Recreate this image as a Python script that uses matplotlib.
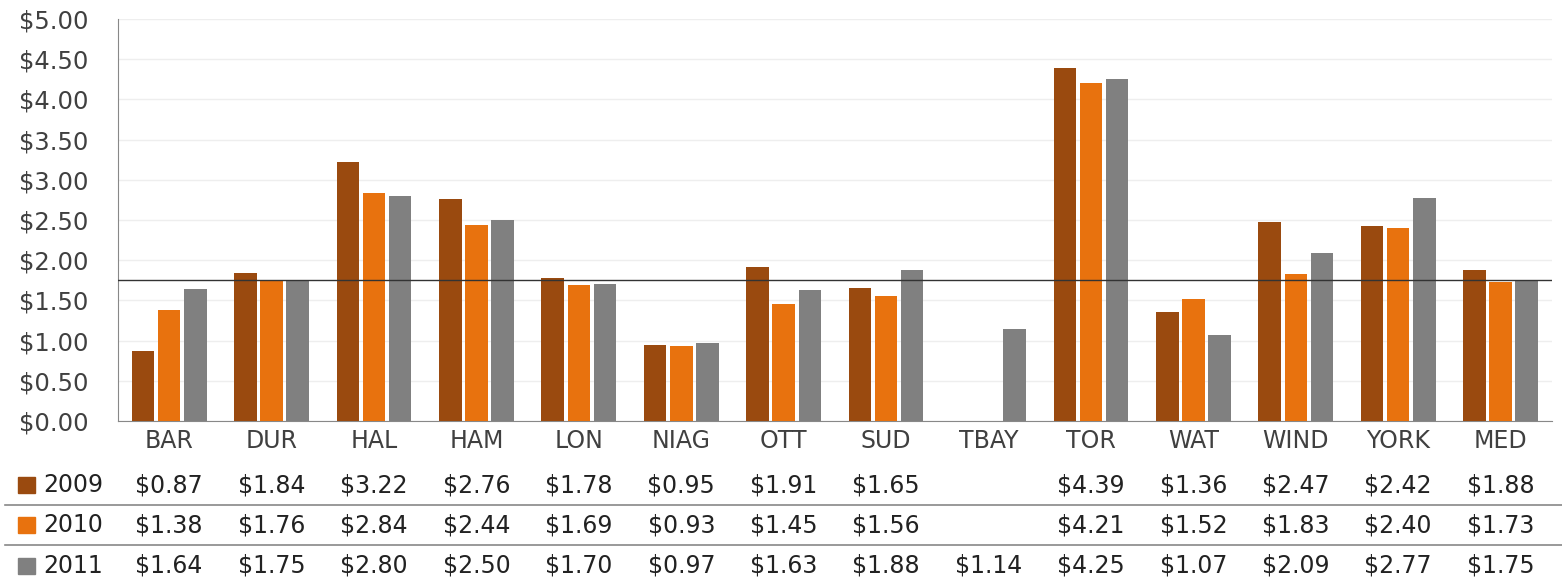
import numpy as np
import matplotlib.pyplot as plt
from matplotlib.transforms import blended_transform_factory
from matplotlib.patches import Rectangle

plt.rcParams['font.family'] = ['DejaVu Sans']

categories = ['BAR', 'DUR', 'HAL', 'HAM', 'LON', 'NIAG', 'OTT', 'SUD',
              'TBAY', 'TOR', 'WAT', 'WIND', 'YORK', 'MED']
years = ['2009', '2010', '2011']
v2009 = [0.87, 1.84, 3.22, 2.76, 1.78, 0.95, 1.91, 1.65, np.nan,
         4.39, 1.36, 2.47, 2.42, 1.88]
v2010 = [1.38, 1.76, 2.84, 2.44, 1.69, 0.93, 1.45, 1.56, np.nan,
         4.21, 1.52, 1.83, 2.40, 1.73]
v2011 = [1.64, 1.75, 2.80, 2.50, 1.70, 0.97, 1.63, 1.88, 1.14,
         4.25, 1.07, 2.09, 2.77, 1.75]
median_line = 1.75
yticks = [0, 0.5, 1.0, 1.5, 2.0, 2.5, 3.0, 3.5, 4.0, 4.5, 5.0]

colors = ['#9A4A0F', '#E8720E', '#808080']
series = [v2009, v2010, v2011]

fig = plt.figure(figsize=(15.62, 5.84), dpi=100)
ax = fig.add_axes([0.0755, 0.279, 0.918, 0.6885])

x = np.arange(len(categories))
offsets = [-0.255, 0, 0.255]
for vals, off, c in zip(series, offsets, colors):
    ax.bar(x + off, vals, width=0.22, color=c, zorder=3)

ax.axhline(median_line, color='#333333', lw=1.0, zorder=4)

ax.set_xlim(-0.5, len(categories) - 0.5)
ax.set_ylim(0, 5)
ax.set_yticks(yticks)
ax.set_yticklabels([f'${t:.2f}' for t in yticks], fontsize=17.5, color='#404040')
ax.set_xticks([])
ax.tick_params(axis='y', length=0, pad=21)
ax.grid(axis='y', color='#EEEEEE', lw=1, zorder=0)
for s in ['top', 'right']:
    ax.spines[s].set_visible(False)
ax.spines['left'].set_color('#888888')
ax.spines['bottom'].set_color('#888888')

# data table below the plot
tr = blended_transform_factory(ax.transData, fig.transFigure)
for i, cat in enumerate(categories):
    fig.text(i, 1 - 441 / 584, cat, transform=tr, ha='center', va='center',
             fontsize=17, color='#404040')

row_y = [1 - 485 / 584, 1 - 525 / 584, 1 - 566 / 584]
for yr, vals, c, yy in zip(years, series, colors, row_y):
    fig.patches.append(Rectangle((18 / 1562, yy - 8 / 584), 17 / 1562, 16 / 584,
                                 transform=fig.transFigure, color=c))
    fig.text(43 / 1562, yy, yr, ha='left', va='center', fontsize=17,
             color='#222222')
    for i, v in enumerate(vals):
        if not np.isnan(v):
            fig.text(i, yy, f'${v:.2f}', transform=tr, ha='center',
                     va='center', fontsize=17, color='#222222')

for ly in [1 - 505 / 584, 1 - 545 / 584]:
    fig.add_artist(plt.Line2D([5 / 1562, 1], [ly, ly], transform=fig.transFigure,
                              color='#888888', lw=1.2))

fig.savefig('out.png', dpi=100)
